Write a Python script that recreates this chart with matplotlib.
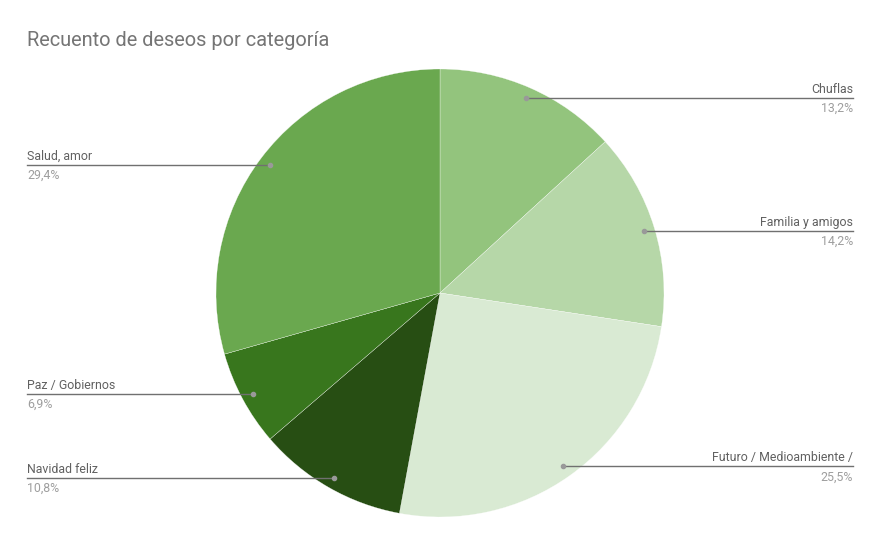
import matplotlib
matplotlib.use('Agg')
import matplotlib.pyplot as plt
import numpy as np

plt.rcParams['font.family'] = ['Roboto', 'DejaVu Sans']

# data (percent share, clockwise from 12 o'clock)
categories = ['Chuflas', 'Familia y amigos', 'Futuro / Medioambiente /',
              'Navidad feliz', 'Paz / Gobiernos', 'Salud, amor']
shares = [13.2, 14.2, 25.5, 10.8, 6.9, 29.4]
colors = ['#93c47d', '#b6d7a8', '#d9ead3', '#274e13', '#38761d', '#6aa84f']

W, H = 881, 545
fig = plt.figure(figsize=(W / 100, H / 100), dpi=100)
ax = fig.add_axes([0, 0, 1, 1])

cx, cy, r = 440, H - 293, 224
wedges, _ = ax.pie(shares, colors=colors, startangle=90, counterclock=False,
                   center=(cx, cy), radius=r, frame=True,
                   wedgeprops=dict(edgecolor='white', linewidth=0.2))
ax.set_xlim(0, W)
ax.set_ylim(0, H)
ax.set_aspect('equal')
ax.axis('off')

for w, name, val in zip(wedges, categories, shares):
    mid = np.deg2rad((w.theta1 + w.theta2) / 2)
    px = cx + 0.95 * r * np.cos(mid)
    py = cy + 0.95 * r * np.sin(mid)
    if px > cx:
        x_end, ha = 853, 'right'
    else:
        x_end, ha = 27, 'left'
    ax.plot([px, x_end], [py, py], color='#707070', lw=1, zorder=3)
    ax.plot(px, py, 'o', color='#999999', ms=3, zorder=4)
    ax.text(x_end, py + 2, name, ha=ha, va='bottom', fontsize=8.9, color='#616161')
    ax.text(x_end, py - 4, f"{val:.1f}%".replace('.', ','), ha=ha, va='top',
            fontsize=8.9, color='#9e9e9e')

ax.text(27, H - 40, 'Recuento de deseos por categoría', ha='left', va='center',
        fontsize=14.4, color='#757575')

fig.savefig('out.png', dpi=100, facecolor='white')
